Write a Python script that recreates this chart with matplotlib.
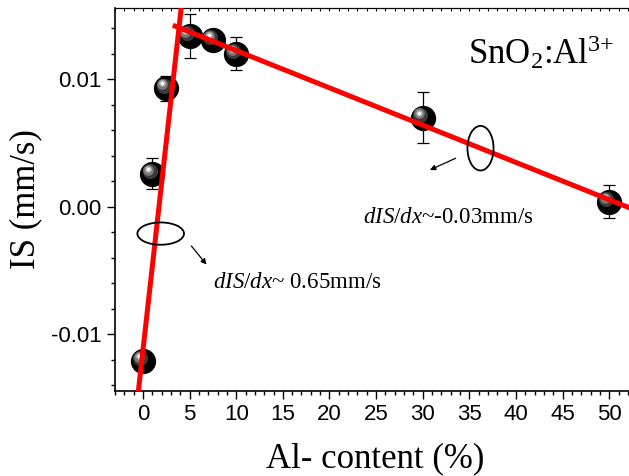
import matplotlib
matplotlib.use("Agg")
import matplotlib.pyplot as plt
from matplotlib.patches import Ellipse
from matplotlib.transforms import offset_copy
from matplotlib.ticker import MultipleLocator

# Al content (%) and isomer shift (mm/s)
al_content = [0, 1, 2.5, 5, 7.5, 10, 30, 50]
isomer_shift = [-0.0121, 0.0026, 0.0093, 0.0134, 0.0131, 0.0120, 0.0070, 0.0004]
is_err = [0.0, 0.0012, 0.0010, 0.0017, 0.0008, 0.0013, 0.0020, 0.0013]

# linear fits (end points)
fit_low_x = [-0.5, 4.1]
fit_low_y = [-0.0145, 0.0156]
fit_high_x = [3.2, 52.8]
fit_high_y = [0.01425, -0.00026]

plt.rcParams['mathtext.fontset'] = 'custom'
plt.rcParams['mathtext.rm'] = 'Liberation Serif'
plt.rcParams['mathtext.it'] = 'Liberation Serif:italic'

fig = plt.figure(figsize=(6.29, 4.76), dpi=100)
ax = fig.add_axes([115 / 629, 1 - 391 / 476, 1 - 115 / 629 + 0.01, (391 - 8) / 476])

ax.errorbar(al_content, isomer_shift, yerr=is_err, fmt='none', ecolor='black',
            elinewidth=0.9, capsize=4, capthick=0.9, zorder=2)

# shaded "sphere" markers: black ball plus grey highlight up-left
layers = [(330, '#000000', 0, 0), (120, '#3a3a3a', -2, 2), (60, '#777777', -3, 3),
          (22, '#bbbbbb', -3, 3.5), (5, '#ffffff', -3, 3.5)]
for size, col, dx, dy in layers:
    tr = offset_copy(ax.transData, fig=fig, x=dx, y=dy, units='points')
    ax.scatter(al_content, isomer_shift, s=size, color=col, linewidths=0,
               transform=tr, zorder=3)

ax.plot(fit_low_x, fit_low_y, color='red', lw=3.6, zorder=4, solid_capstyle='butt')
ax.plot(fit_high_x, fit_high_y, color='red', lw=3.6, zorder=4, solid_capstyle='butt')

ax.add_patch(Ellipse((1.9, -0.0021), 5.0, 0.00175, fill=False, lw=1.3, color='black', zorder=5))
ax.add_patch(Ellipse((36.2, 0.0046), 2.8, 0.0035, fill=False, lw=1.3, color='black', zorder=5))

ax.annotate('', xy=(7.0, -0.0047), xytext=(5.0, -0.0029),
            arrowprops=dict(arrowstyle='-|>', color='black', lw=0.9, mutation_scale=8))
ax.annotate('', xy=(30.5, 0.0028), xytext=(33.8, 0.0039),
            arrowprops=dict(arrowstyle='-|>', color='black', lw=0.9, mutation_scale=8))

ax.text(7.5, -0.0064, r'$\mathit{dIS/dx}$~ 0.65mm/s', fontsize=16.5,
        family='Liberation Serif', va='baseline')
ax.text(23.6, -0.00123, r'$\mathit{dIS/dx}$~-0.03mm/s', fontsize=16.5,
        family='Liberation Serif', va='baseline')
ax.text(34.9, 0.0112, r'SnO$_2$:Al$^{\text{3+}}$', fontsize=25,
        family='Liberation Serif', va='baseline')

ax.set_xlim(-3, 52.8)
ax.set_ylim(-0.01445, 0.0156)
ax.xaxis.set_major_locator(MultipleLocator(5))
ax.xaxis.set_minor_locator(MultipleLocator(1))
ax.yaxis.set_major_locator(MultipleLocator(0.01))
ax.yaxis.set_minor_locator(MultipleLocator(0.002))
ax.set_yticks([-0.01, 0.0, 0.01])
ax.set_yticklabels(['-0.01', '0.00', '0.01'])

ax.tick_params(which='major', direction='out', length=6, width=1, labelsize=16)
ax.tick_params(which='minor', direction='out', length=3, width=1)
for lab in ax.get_xticklabels() + ax.get_yticklabels():
    lab.set_family('Liberation Sans')

top = ax.secondary_xaxis('top')
top.xaxis.set_major_locator(MultipleLocator(1))
top.tick_params(direction='in', length=2.5, width=0.8, labeltop=False)

ax.spines['right'].set_visible(False)
for s in ['left', 'bottom']:
    ax.spines[s].set_linewidth(1.2)

ax.set_xlabel('Al- content (%)', fontsize=25, family='Liberation Serif', labelpad=12)
ax.set_ylabel('IS (mm/s)', fontsize=25, family='Liberation Serif', labelpad=6)

fig.savefig('out.png', dpi=100)
